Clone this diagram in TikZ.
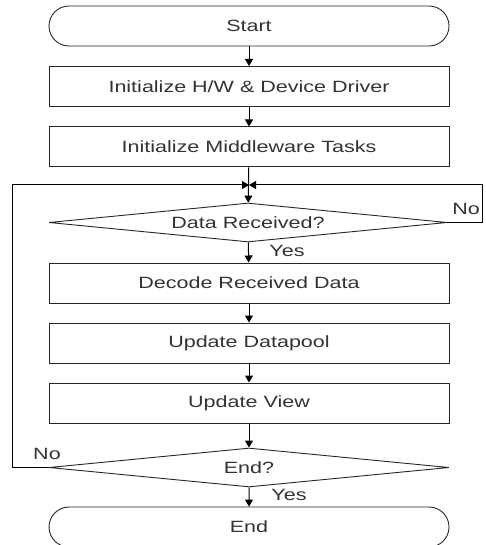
\documentclass[tikz,border=0pt]{standalone}
\usepackage{fontspec}
\newfontfamily\diafont[FakeStretch=1.32]{Liberation Sans}
\usetikzlibrary{shapes.geometric,shapes.misc,arrows.meta}
\begin{document}
\begin{tikzpicture}[x=1pt,y=1pt,
  every node/.style={font=\diafont\fontsize{16.3}{18}\selectfont, text=black!80},
  boxnode/.style={draw=black!85, line width=1pt, rectangle, minimum width=400pt, minimum height=40pt, inner sep=0pt},
  termnode/.style={draw=black!85, line width=0.9pt, rounded rectangle, minimum width=400pt, minimum height=40pt, inner sep=0pt},
  decnode/.style={draw=black!85, line width=0.9pt, diamond, shape aspect=10, minimum width=398pt, minimum height=39pt, inner sep=0pt},
  flow/.style={draw=black, line width=1pt, -{Triangle[length=7pt,width=8pt]}},
  lbl/.style={inner sep=0pt}]
\clip (0,0) rectangle (486,-545);
\useasboundingbox (0,0) rectangle (486,-545);
\node[termnode] (start) at (249,-26) {Start};
\node[boxnode] (init) at (249,-86.5) {Initialize H/W \& Device Driver};
\node[boxnode] (mid) at (249,-147) {Initialize Middleware Tasks};
\coordinate (merge) at (249,-185);
\node[decnode] (recv) at (248,-222.5) {Data Received?};
\node[boxnode] (decode) at (249,-283) {Decode Received Data};
\node[boxnode] (pool) at (249,-343) {Update Datapool};
\node[boxnode] (view) at (249,-403) {Update View};
\node[decnode, minimum width=400pt] (endq) at (249,-467.5) {End?};
\node[termnode] (fin) at (249,-527) {End};
\coordinate (rtop) at (482,-185);
\coordinate (ltop) at (12,-185);
\draw[flow] (start) -- (init);
\draw[flow] (init) -- (mid);
\draw[flow] (mid) -- (recv);
\draw[flow] (recv) -- (decode);
\draw[flow] (decode) -- (pool);
\draw[flow] (pool) -- (view);
\draw[flow] (view) -- (endq);
\draw[flow] (endq) -- (fin);
\draw[flow] (recv.east) -| (rtop) -- (merge);
\draw[flow] (endq.west) -| (ltop) -- (merge);
\node[lbl] (no1) at (466,-209) {No};
\node[lbl] (no2) at (47,-454) {No};
\node[lbl] (yes1) at (287,-251) {Yes};
\node[lbl] (yes2) at (289,-495) {Yes};
\end{tikzpicture}
\end{document}
